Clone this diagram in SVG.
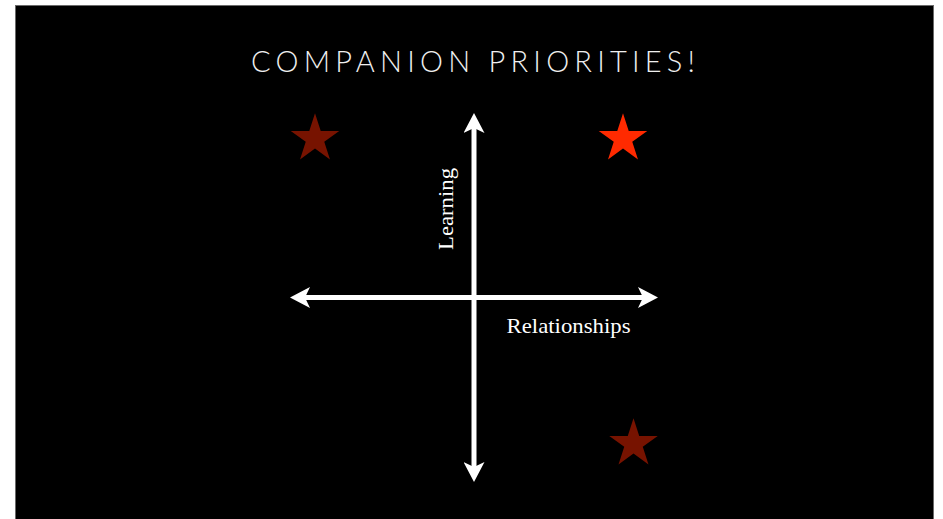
<svg xmlns="http://www.w3.org/2000/svg" width="943" height="519" viewBox="0 0 943 519">
  <style>
    .title { font-family: "Lato", "Open Sans", "Liberation Sans", sans-serif; font-weight: 300; font-size: 29px; fill: #efefef; }
    .axis-label { font-family: "Liberation Serif", "DejaVu Serif", serif; font-size: 22px; fill: #ffffff; }
    .axis { stroke: #ffffff; stroke-width: 5; fill: none; }
    .star-dim { fill: #771300; }
    .star-bright { fill: #ff2a00; }
  </style>
  <defs>
    <marker id="arrowhead" markerUnits="userSpaceOnUse" markerWidth="20" markerHeight="21" viewBox="0 0 20 21" refX="6" refY="10.5" orient="auto-start-reverse">
      <path d="M0,0 L20,10.5 L0,21 L5,10.5 Z" fill="#ffffff"/>
    </marker>
    <polygon id="star" points="0,-25.5 5.73,-7.88 24.25,-7.88 9.26,3.01 14.99,20.63 0,9.74 -14.99,20.63 -9.26,3.01 -24.25,-7.88 -5.73,-7.88"/>
  </defs>

  <!-- page and slide -->
  <rect x="0" y="0" width="943" height="519" fill="#ffffff"/>
  <rect x="15.5" y="5.5" width="918" height="520" fill="#000000" stroke="#6a6a6a" stroke-width="1"/>

  <text class="title" x="473" y="72" text-anchor="middle" textLength="444" lengthAdjust="spacing">COMPANION PRIORITIES!</text>

  <!-- axes -->
  <g id="connectors">
    <line class="axis" x1="474" y1="127" x2="474" y2="468" marker-start="url(#arrowhead)" marker-end="url(#arrowhead)"/>
    <line class="axis" x1="304" y1="297.5" x2="644" y2="297.5" marker-start="url(#arrowhead)" marker-end="url(#arrowhead)"/>
  </g>

  <g id="label-learning">
    <text class="axis-label" transform="translate(452.5,250) rotate(-90)" x="0" y="0" textLength="82" lengthAdjust="spacingAndGlyphs">Learning</text>
  </g>
  <g id="label-relationships">
    <text class="axis-label" x="506.5" y="333" textLength="124" lengthAdjust="spacingAndGlyphs">Relationships</text>
  </g>

  <!-- stars -->
  <g id="star-top-left"><use href="#star" class="star-dim" x="315" y="138.8"/></g>
  <g id="star-top-right"><use href="#star" class="star-bright" x="623" y="138.8"/></g>
  <g id="star-bottom-right"><use href="#star" class="star-dim" x="633.5" y="443.8"/></g>
</svg>
